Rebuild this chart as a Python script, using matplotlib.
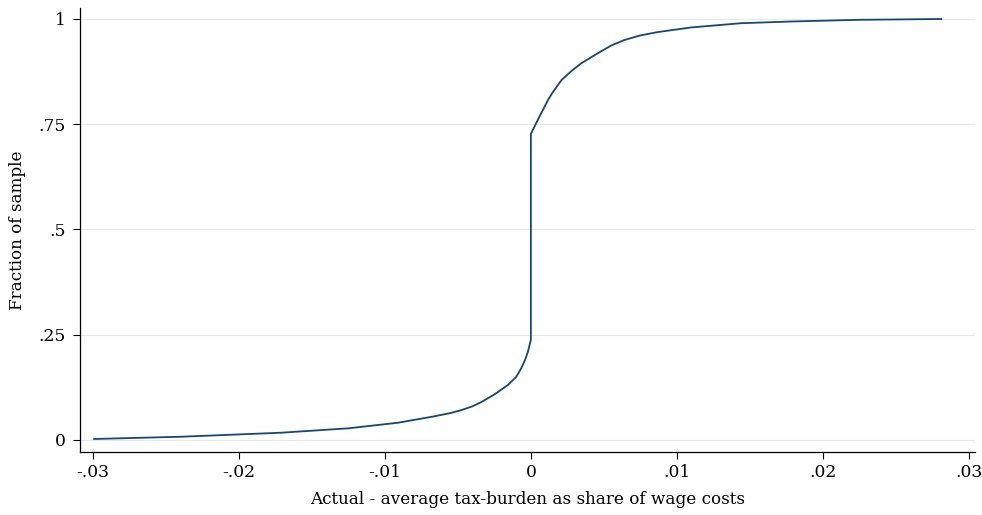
import matplotlib
matplotlib.use("Agg")
import matplotlib.pyplot as plt

# CDF points
x_vals = [-0.0299, -0.0239, -0.0171, -0.0125, -0.0091, -0.0068, -0.0055, -0.00476,
          -0.004, -0.0034, -0.0025, -0.00156, -0.001, -0.00065, -0.0004, -0.0002,
          -0.0001, 0.0, 0.0,
          0.0005, 0.00118, 0.0015, 0.0021, 0.0028, 0.00346, 0.0046, 0.0055,
          0.0064, 0.0075, 0.0087, 0.011, 0.0144, 0.0178, 0.0224, 0.0281]
y_vals = [0.0024, 0.0078, 0.0173, 0.0277, 0.041, 0.055, 0.064, 0.071,
          0.080, 0.090, 0.108, 0.131, 0.150, 0.171, 0.190, 0.210,
          0.224, 0.238, 0.727,
          0.762, 0.808, 0.826, 0.855, 0.877, 0.895, 0.919, 0.937,
          0.950, 0.961, 0.969, 0.980, 0.990, 0.994, 0.998, 1.0]

x_ticks = [-0.03, -0.02, -0.01, 0.0, 0.01, 0.02, 0.03]
x_ticklabels = ["-.03", "-.02", "-.01", "0", ".01", ".02", ".03"]
y_ticks = [0, 0.25, 0.5, 0.75, 1]
y_ticklabels = ["0", ".25", ".5", ".75", "1"]

plt.rcParams['font.family'] = ['DejaVu Serif']

W, H = 982, 515
fig = plt.figure(figsize=(W / 100, H / 100), dpi=100)
ax = fig.add_axes([80 / W, (H - 451.7) / H, (975 - 80) / W, (451.7 - 8) / H])

ax.plot(x_vals, y_vals, color="#1a476f", linewidth=1.3, solid_joinstyle="round")

ax.set_xlim(-0.03087, 0.03041)
ax.set_ylim(-0.0278, 1.0261)
ax.set_xticks(x_ticks)
ax.set_xticklabels(x_ticklabels)
ax.set_yticks(y_ticks)
ax.set_yticklabels(y_ticklabels)

ax.grid(axis="y", color="#e8e8e8", linewidth=0.8)
ax.set_axisbelow(True)
for s in ["top", "right"]:
    ax.spines[s].set_visible(False)
for s in ["left", "bottom"]:
    ax.spines[s].set_linewidth(0.9)
ax.tick_params(axis="both", direction="out", length=5, width=0.8, labelsize=12.3, pad=4, colors="black")
ax.tick_params(axis="y", pad=5)

ax.set_xlabel("Actual - average tax-burden as share of wage costs", fontsize=12.1, labelpad=7)
ax.set_ylabel("Fraction of sample", fontsize=12.1, labelpad=9)

fig.savefig("out.png", dpi=100)
